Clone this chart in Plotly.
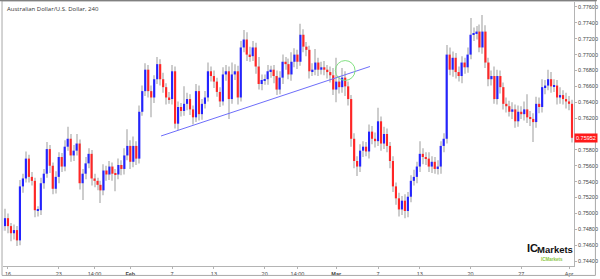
import plotly.graph_objects as go

# ---- data (4h candles, AUD/USD) ----
first_open = 0.7478
closes = [
    0.7484, 0.7494, 0.7484, 0.7475, 0.7479, 0.7466, 0.7534, 0.7544, 0.7569, 0.7546, 0.7541, 0.7504,
    0.7504, 0.7538, 0.7550, 0.7581, 0.7560, 0.7531, 0.7546, 0.7571, 0.7559, 0.7584, 0.7594, 0.7573,
    0.7579, 0.7588, 0.7538, 0.7550, 0.7563, 0.7575, 0.7544, 0.7541, 0.7536, 0.7529, 0.7554, 0.7549,
    0.7559, 0.7550, 0.7549, 0.7561, 0.7556, 0.7573, 0.7585, 0.7565, 0.7585, 0.7569, 0.7628, 0.7654,
    0.7681, 0.7654, 0.7646, 0.7669, 0.7688, 0.7669, 0.7659, 0.7646, 0.7644, 0.7679, 0.7613, 0.7634,
    0.7629, 0.7638, 0.7644, 0.7631, 0.7621, 0.7654, 0.7625, 0.7638, 0.7646, 0.7679, 0.7673, 0.7666,
    0.7653, 0.7641, 0.7675, 0.7679, 0.7644, 0.7675, 0.7679, 0.7646, 0.7709, 0.7719, 0.7700, 0.7698,
    0.7709, 0.7685, 0.7663, 0.7668, 0.7669, 0.7679, 0.7681, 0.7673, 0.7656, 0.7671, 0.7691, 0.7688,
    0.7675, 0.7691, 0.7700, 0.7691, 0.7725, 0.7710, 0.7706, 0.7679, 0.7681, 0.7690, 0.7681, 0.7684,
    0.7681, 0.7678, 0.7674, 0.7656, 0.7666, 0.7659, 0.7671, 0.7660, 0.7644, 0.7594, 0.7566, 0.7559,
    0.7579, 0.7584, 0.7578, 0.7603, 0.7594, 0.7591, 0.7616, 0.7588, 0.7600, 0.7585, 0.7566, 0.7534,
    0.7519, 0.7505, 0.7516, 0.7503, 0.7521, 0.7541, 0.7546, 0.7559, 0.7575, 0.7571, 0.7569, 0.7559,
    0.7565, 0.7556, 0.7559, 0.7585, 0.7594, 0.7700, 0.7681, 0.7696, 0.7678, 0.7673, 0.7690, 0.7684,
    0.7700, 0.7725, 0.7726, 0.7729, 0.7709, 0.7729, 0.7690, 0.7669, 0.7673, 0.7644, 0.7673, 0.7659,
    0.7638, 0.7635, 0.7628, 0.7631, 0.7616, 0.7628, 0.7625, 0.7631, 0.7621, 0.7619, 0.7615, 0.7638,
    0.7634, 0.7659, 0.7661, 0.7669, 0.7660, 0.7661, 0.7646, 0.7649, 0.7644, 0.7641, 0.7638, 0.75952,
]
# wick lengths beyond the body, in pips
wick_up = [
    5, 12, 6, 4, 7, 5, 8, 6, 9, 5, 6, 4,
    5, 7, 6, 9, 5, 4, 7, 6, 5, 8, 15, 6,
    7, 12, 5, 6, 8, 7, 5, 6, 4, 5, 8, 6,
    7, 5, 6, 8, 6, 9, 21, 7, 12, 6, 8, 7,
    8, 6, 7, 5, 9, 6, 8, 5, 7, 8, 6, 7,
    5, 22, 8, 6, 5, 9, 7, 6, 8, 11, 6, 7,
    5, 6, 9, 8, 6, 15, 9, 7, 8, 12, 9, 10,
    8, 6, 12, 7, 6, 8, 5, 6, 7, 8, 9, 6,
    7, 12, 8, 6, 14, 7, 6, 5, 8, 17, 6, 7,
    8, 6, 7, 9, 30, 7, 12, 8, 6, 5, 7, 6,
    8, 7, 6, 9, 7, 8, 17, 6, 9, 7, 5, 6,
    5, 7, 6, 8, 6, 7, 9, 6, 16, 7, 6, 8,
    7, 6, 8, 6, 7, 12, 9, 8, 6, 7, 8, 6,
    9, 21, 8, 7, 9, 21, 8, 6, 7, 12, 8, 7,
    6, 8, 7, 9, 6, 8, 7, 10, 19, 8, 7, 9,
    8, 10, 7, 12, 9, 8, 7, 10, 6, 8, 7, 5,
]
wick_dn = [
    28, 6, 9, 10, 8, 7, 6, 8, 5, 7, 6, 9,
    8, 6, 7, 5, 9, 7, 6, 8, 7, 6, 5, 8,
    7, 6, 8, 21, 7, 6, 9, 8, 7, 16, 6, 8,
    7, 9, 21, 6, 8, 7, 6, 9, 7, 8, 6, 5,
    6, 8, 25, 7, 6, 8, 7, 9, 6, 7, 6, 8,
    7, 6, 8, 7, 9, 6, 8, 7, 6, 5, 7, 8,
    6, 7, 5, 8, 25, 6, 7, 9, 5, 6, 8, 7,
    6, 9, 7, 8, 6, 7, 8, 9, 7, 6, 8, 7,
    6, 8, 7, 9, 5, 7, 8, 9, 6, 7, 8, 6,
    7, 8, 9, 7, 16, 8, 7, 12, 8, 10, 9, 12,
    7, 8, 6, 9, 7, 8, 6, 9, 7, 8, 9, 7,
    8, 9, 7, 9, 8, 7, 6, 8, 7, 9, 8, 7,
    8, 6, 7, 9, 8, 6, 7, 9, 8, 7, 9, 8,
    7, 6, 8, 7, 6, 8, 7, 9, 8, 6, 7, 8,
    7, 8, 6, 9, 8, 7, 6, 8, 7, 9, 25, 7,
    8, 7, 9, 6, 8, 7, 9, 8, 7, 9, 8, 6,
]
x_tick_bars = [2, 19, 31, 43, 57, 71, 88, 99, 112, 126, 140, 157, 174, 190]
x_tick_labels = ["16", "23", "14:00", "<b>Feb</b>", "7", "13", "20", "14:00", "<b>Mar</b>",
                 "7", "13", "20", "27", "Apr"]
# 0.7600 is hidden behind the last-price marker in the reference
y_tick_vals = [0.7760, 0.7740, 0.7720, 0.7700, 0.7680, 0.7660, 0.7640, 0.7620,
               0.7580, 0.7560, 0.7540, 0.7520, 0.7500, 0.7480, 0.7460, 0.7440]
y_tick_labels = ["%.5f" % v for v in y_tick_vals]
trend_x = [53.3, 123.3]
trend_y = [0.75975, 0.7685]
circle_center = (115, 0.7680)
last_price = closes[-1]
title = "Australian Dollar/U.S. Dollar, 240"

# ---- build OHLC ----
PIP = 0.0001
n = len(closes)
idx = list(range(n))
opens = [first_open] + closes[:-1]
highs = [max(o, c) + u * PIP for o, c, u in zip(opens, closes, wick_up)]
lows = [min(o, c) - d * PIP for o, c, d in zip(opens, closes, wick_dn)]
body_base = [min(o, c) for o, c in zip(opens, closes)]
body_h = [max(abs(c - o), 0.00009) for o, c in zip(opens, closes)]
body_col = ["#2323ff" if c >= o else "#ff2626" for o, c in zip(opens, closes)]

fig = go.Figure()
fig.add_trace(go.Bar(x=idx, base=lows, y=[h - l for h, l in zip(highs, lows)], width=0.34,
                     marker=dict(color="#cdcdcd", line=dict(width=0)), hoverinfo="skip"))
fig.add_trace(go.Bar(x=idx, base=body_base, y=body_h, width=0.72,
                     marker=dict(color=body_col, line=dict(width=0))))
fig.add_trace(go.Scatter(x=trend_x, y=trend_y, mode="lines",
                         line=dict(color="rgb(110,110,250)", width=1), hoverinfo="skip"))

cx, cy = circle_center
fig.add_shape(type="circle", xref="x", yref="y", x0=cx - 3.3, x1=cx + 3.3,
              y0=cy - 0.00125, y1=cy + 0.00125, line=dict(color="rgb(130,225,130)", width=1))

# outer frame
fig.add_shape(type="rect", xref="paper", yref="paper", x0=-0.0017, x1=1.0375, y0=-0.0357, y1=1.0045,
              line=dict(color="#a8a8a8", width=1), layer="above")
fig.add_shape(type="line", xref="paper", yref="paper", x0=-0.01, x1=1.04, y0=1.006, y1=1.006,
              line=dict(color="#808080", width=1.5))

fig.add_annotation(text=title, xref="paper", yref="paper", x=0.0035, y=0.975, xanchor="left",
                   yanchor="middle", showarrow=False, font=dict(size=6, color="#333333", family="Open Sans"))
fig.add_annotation(text="%.5f" % last_price, xref="paper", yref="y", x=1.0, y=last_price, xanchor="left",
                   yanchor="middle", showarrow=False, bgcolor="#ff1a1a", borderpad=1,
                   font=dict(size=5.5, color="white", family="Arial"))
# logo
fig.add_annotation(text="<b>IC</b>", xref="paper", yref="paper", x=0.938, y=0.07, xanchor="right",
                   yanchor="middle", showarrow=False, borderpad=0,
                   font=dict(size=11, color="#111111", family="Arial"))
fig.add_annotation(text="<b>Markets</b>", xref="paper", yref="paper", x=0.934, y=0.062, xanchor="left",
                   yanchor="middle", showarrow=False, borderpad=0,
                   font=dict(size=9.5, color="#111111", family="Arial"))
fig.add_annotation(text="<b>ICMarkets</b>", xref="paper", yref="paper", x=0.94, y=0.026, xanchor="left",
                   yanchor="middle", showarrow=False, borderpad=0,
                   font=dict(size=4.5, color="#8cc63f", family="Arial"))

fig.update_layout(
    width=600, height=279, margin=dict(l=3, r=23, t=2, b=11),
    paper_bgcolor="white", plot_bgcolor="white", showlegend=False, barmode="overlay",
    xaxis=dict(range=[0.33, 191.67], tickvals=x_tick_bars, ticktext=x_tick_labels,
               showgrid=False, zeroline=False, showline=True, linecolor="#b4b4b4", linewidth=1,
               ticks="outside", ticklen=2, tickcolor="#b4b4b4",
               tickfont=dict(size=5.5, color="#444444", family="Arial")),
    yaxis=dict(range=[0.743375, 0.776625], side="right", tickvals=y_tick_vals, ticktext=y_tick_labels,
               showgrid=False, zeroline=False, showline=True, linecolor="#b4b4b4", linewidth=1,
               ticks="outside", ticklen=2, tickcolor="#b4b4b4",
               tickfont=dict(size=5.5, color="#444444", family="Arial")),
)
fig.write_html("out.html")
